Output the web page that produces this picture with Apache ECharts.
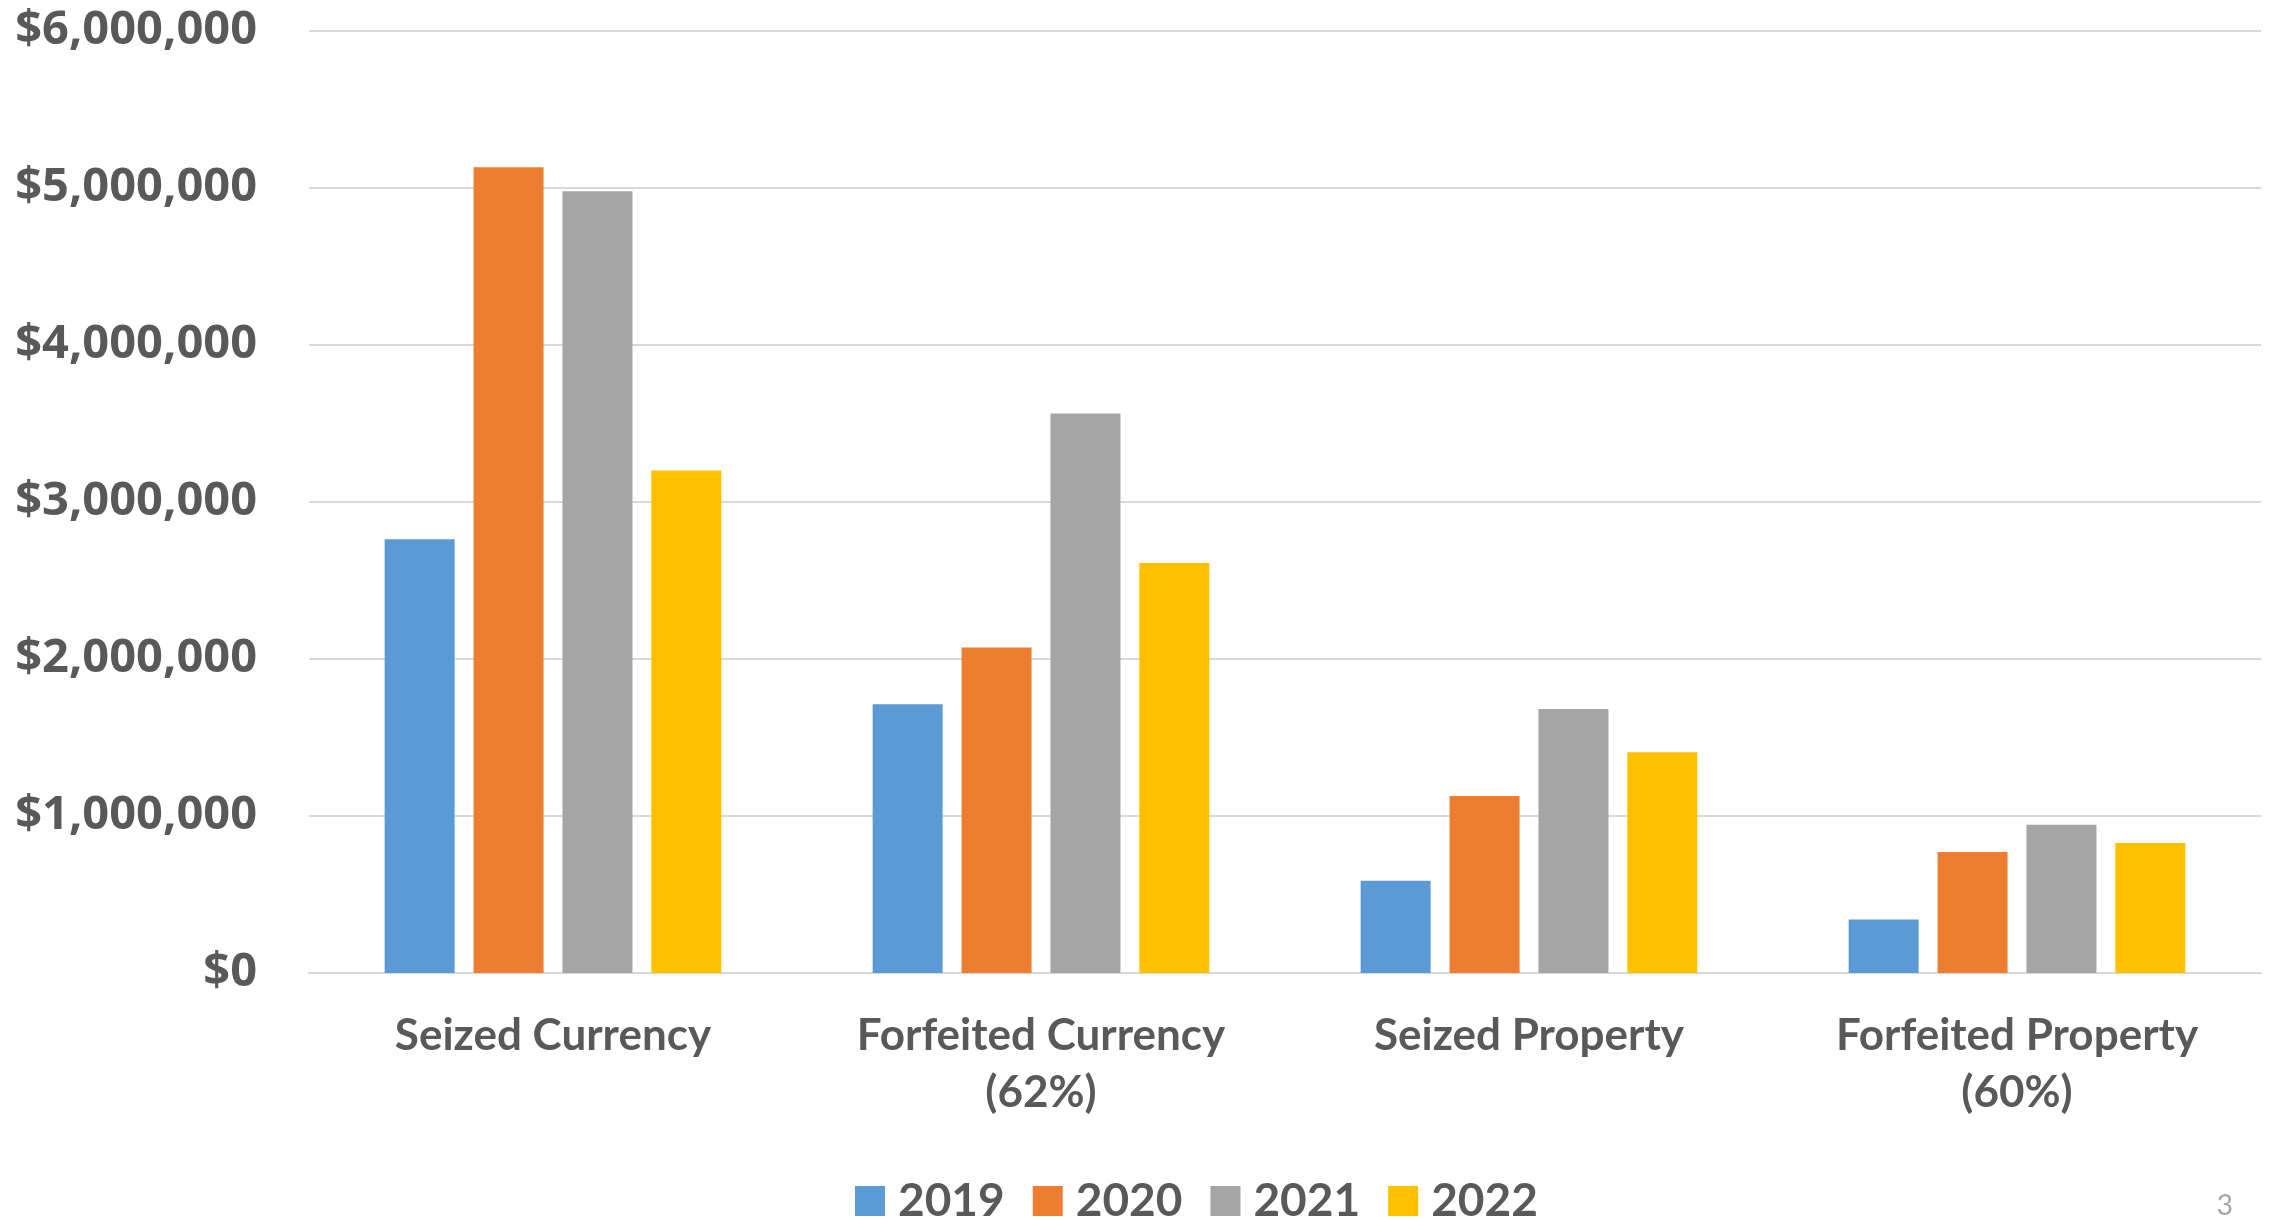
<!DOCTYPE html>
<html>
<head>
<meta charset="utf-8">
<script src="https://cdn.jsdelivr.net/npm/echarts@6/dist/echarts.min.js"></script>
<style>
html,body{margin:0;padding:0;background:#fff;}
#chart{width:2275px;height:1220px;}
</style>
</head>
<body>
<div id="chart"></div>
<script>
const categories = ["Seized Currency", "Forfeited Currency\n(62%)", "Seized Property", "Forfeited Property\n(60%)"];
const years = ["2019", "2020", "2021", "2022"];
const values2019 = [2762000, 1711000, 588000, 340000];
const values2020 = [5132000, 2073000, 1127000, 771000];
const values2021 = [4979000, 3563000, 1682000, 945000];
const values2022 = [3200000, 2611000, 1406000, 828000];
const colors = ["#5B9BD5", "#ED7D31", "#A5A5A5", "#FFC000"];
const yTicks = { min: 0, max: 6000000, interval: 1000000 };

const seriesValues = [values2019, values2020, values2021, values2022];

const chart = echarts.init(document.getElementById('chart'));
chart.setOption({
  animation: false,
  backgroundColor: '#ffffff',
  grid: { left: 309, right: 14, top: 31, bottom: 247, containLabel: false },
  legend: {
    data: years,
    left: 855,
    top: 1178,
    padding: 0,
    itemWidth: 30,
    itemHeight: 30,
    itemGap: 28,
    icon: 'rect',
    textStyle: { fontFamily: 'Lato', fontWeight: 'bold', fontSize: 46, lineHeight: 46, color: '#595959', padding: [0, 0, 0, 8] }
  },
  xAxis: {
    type: 'category',
    data: categories,
    axisLine: { lineStyle: { color: '#d9d9d9', width: 2 } },
    axisTick: { show: false },
    axisLabel: {
      interval: 0,
      margin: 34,
      fontFamily: 'Lato',
      fontWeight: 'bold',
      fontSize: 44,
      lineHeight: 57,
      color: '#595959'
    }
  },
  yAxis: {
    type: 'value',
    min: yTicks.min,
    max: yTicks.max,
    interval: yTicks.interval,
    axisLine: { show: false },
    axisTick: { show: false },
    splitLine: { lineStyle: { color: '#d9d9d9', width: 2 } },
    axisLabel: {
      margin: 52,
      fontFamily: 'Open Sans',
      fontWeight: 'bold',
      fontSize: 47,
      color: '#595959',
      formatter: v => '$' + v.toLocaleString('en-US')
    }
  },
  series: years.map((y, i) => ({
    name: y,
    type: 'bar',
    data: seriesValues[i],
    barWidth: 70,
    barGap: '27%',
    itemStyle: { color: colors[i] }
  })),
  graphic: [{
    type: 'text',
    right: 42,
    bottom: 0,
    style: { text: '3', fontFamily: 'Lato', fontSize: 28, fill: '#a6a6a6' }
  }]
});
</script>
</body>
</html>
